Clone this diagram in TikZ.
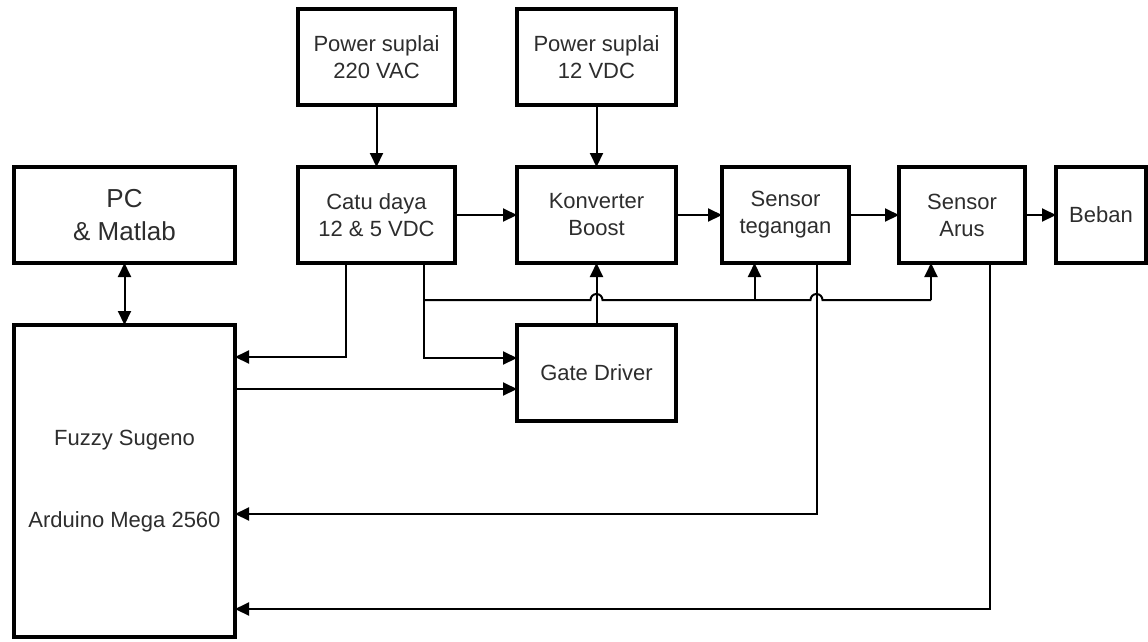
\documentclass[tikz,border=0pt]{standalone}
\usepackage{fontspec}
\setmainfont{Liberation Sans}
\usepackage{tikz}
\usetikzlibrary{arrows.meta,positioning,calc}
\definecolor{txtgray}{RGB}{45,45,45}

\begin{document}
\begin{tikzpicture}[x=1pt, y=-1pt,
  blok/.style={draw, line width=3.2pt, inner sep=0pt, outer sep=0pt, align=center,
               text=txtgray, font=\fontsize{22}{27}\selectfont, minimum height=96pt},
  wire/.style={line width=2pt},
  arr/.style={-{Triangle[length=14pt,width=13pt]}, line width=2pt},
  darr/.style={{Triangle[length=14pt,width=13pt]}-{Triangle[length=14pt,width=13pt]}, line width=2pt}]
  \useasboundingbox (0,0) rectangle (1148,641);
  % top row
  \node[blok, minimum width=157pt] (catu) at (376.5,215) {Catu daya\\12 \& 5 VDC};
  \node[blok, minimum width=157pt, above=62pt of catu] (psac) {Power suplai\\220 VAC};
  \node[blok, minimum width=159pt, right=62pt of catu] (konv) {Konverter\\Boost};
  \node[blok, minimum width=159pt, above=62pt of konv] (psdc) {Power suplai\\12 VDC};
  \node[blok, minimum width=127pt, right=46pt of konv] (stgn) {Sensor\\tegangan};
  \node[blok, minimum width=126pt, right=50pt of stgn] (sarus) {Sensor\\Arus};
  \node[blok, minimum width=90pt, right=31pt of sarus] (beban) {Beban};
  \node[blok, minimum width=159pt, below=62pt of konv] (gate) {Gate Driver};
  % left column
  \node[blok, minimum width=221pt, left=63pt of catu, font=\fontsize{26}{33}\selectfont] (pc) {PC\\\& Matlab};
  \node[blok, minimum width=221pt, minimum height=312pt, below=62pt of pc] (ard) {Fuzzy Sugeno\\[55pt]Arduino Mega 2560};
  % taps under the sensors
  \coordinate (tgn-in) at ([xshift=-31pt]stgn.south);
  \coordinate (tgn-out) at ([xshift=31pt]stgn.south);
  \coordinate (arus-in) at ([xshift=-31pt]sarus.south);
  \coordinate (arus-out) at ([xshift=28pt]sarus.south);
  \coordinate (bus) at ($([xshift=47pt]catu.south)+(0,37)$);
  % power and signal path
  \draw[arr] (psac) -- (catu);
  \draw[arr] (psdc) -- (konv);
  \draw[arr] (catu) -- (konv);
  \draw[arr] (konv) -- (stgn);
  \draw[arr] (stgn) -- (sarus);
  \draw[arr] (sarus) -- (beban);
  \draw[darr] (pc) -- (ard);
  % supply lines
  \draw[arr] ([xshift=-31pt]catu.south) |- ([yshift=124pt]ard.east);
  \draw[arr] ([xshift=47pt]catu.south) |- ([yshift=15pt]gate.west);
  \draw[wire] (bus) -- ($(bus -| gate.north)+(-6,0)$) arc[start angle=180, end angle=0, radius=6pt]
    -- ($(bus -| tgn-out)+(-6,0)$) arc[start angle=180, end angle=0, radius=6pt] -- (bus -| arus-in);
  \draw[arr] (bus -| tgn-in) -- (tgn-in);
  \draw[arr] (bus -| arus-in) -- (arus-in);
  % control and feedback
  \draw[arr] ([yshift=-16pt]gate.west -| ard.east) -- ([yshift=-16pt]gate.west);
  \draw[arr] (gate) -- (konv);
  \draw[arr] (tgn-out) |- ([yshift=-33pt]ard.east);
  \draw[arr] (arus-out) |- ([yshift=-128pt]ard.east);
\end{tikzpicture}
\end{document}
